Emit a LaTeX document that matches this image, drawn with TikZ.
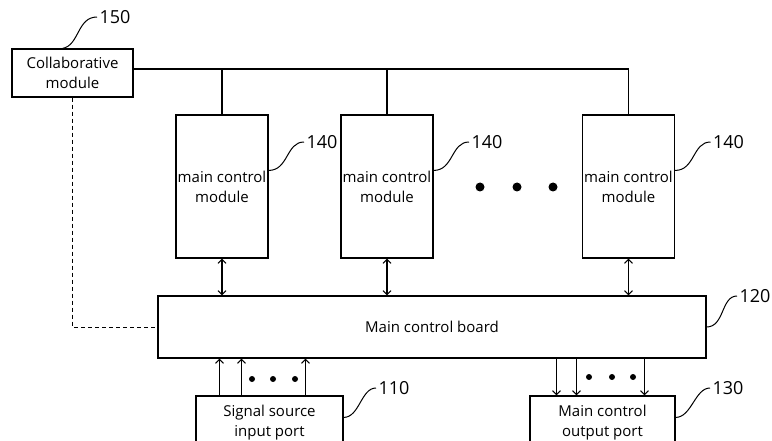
\documentclass[tikz,border=0pt]{standalone}
\usepackage{fontspec}
\setmainfont{Open Sans}
\usetikzlibrary{arrows.meta}

\begin{document}
\begin{tikzpicture}[x=1pt, y=-1pt, line width=1.1pt,
        >={Straight Barb[length=4pt, width=8pt]},
        box/.style={draw, align=center, inner sep=1pt, font=\fontsize{15}{20}\selectfont},
        num/.style={inner sep=2pt, font=\fontsize{18}{20}\selectfont},
        lead/.style={line width=1pt}]
        \useasboundingbox (0,0) rectangle (772,441);
        \clip (0,0) rectangle (772,441);

        % collaborative module on top of the bus
        \node[box, minimum width=121pt, minimum height=48pt] (collab) at (72.5,73) {Collaborative\\module};
        \node[num] (n150) at (115,17) {150};
        \draw[lead] ([xshift=51pt]collab.north west) .. controls +(17,-3) and +(-20,0) .. (n150.west);
        \coordinate (bus) at ([yshift=4pt]collab.east);

        % main control modules
        \foreach \x/\n in {222/1, 387/2, 628.5/3} {
            \node[box, minimum width=92pt, minimum height=143pt] (mod\n) at (\x,186.5) {main control\\module};
            \node[num] (n140\n) at (\x+100,142) {140};
            \draw[lead] ([yshift=-56pt]mod\n.north east) .. controls +(20,0) and +(-18,0) .. (n140\n.west);
        }
        \draw (bus) -- (bus -| mod3.north);
        \foreach \n in {1,2,3}
            \draw (mod\n.north) -- (mod\n.north |- bus);

        \foreach \x in {480,517,553}
            \fill (\x,187) circle (4.5pt);

        % main control board
        \node[box, minimum width=548pt, minimum height=62pt] (board) at (432,327) {Main control board};
        \node[num] (n120) at (755,296) {120};
        \draw[lead] (board.east) .. controls +(18,0) and +(-16,0) .. (n120.west);

        \foreach \n in {1,2,3}
            \draw[<->] (mod\n.south) -- (mod\n.south |- board.north);
        \draw[lead, dash pattern=on 4pt off 3pt] (collab.south) |- (board.west);

        % ports under the board
        \node[box, minimum width=147pt, minimum height=54pt] (inport) at (269.5,423) {Signal source\\input port};
        \node[box, minimum width=145pt, minimum height=54pt] (outport) at (602.5,423) {Main control\\output port};
        \node[num] (n110) at (394,388) {110};
        \node[num] (n130) at (728,388) {130};
        \draw[lead] ([yshift=-22pt]inport.north east) .. controls +(16,0) and +(-15,0) .. (n110.west);
        \draw[lead] ([yshift=-22pt]outport.north east) .. controls +(16,0) and +(-15,0) .. (n130.west);

        \foreach \dx [count=\i] in {24,46,110} {
            \coordinate (in\i) at ([xshift=\dx pt]inport.north west);
            \draw[->] (in\i) -- (in\i |- board.south);
        }
        \foreach \dx [count=\i] in {27,47,115} {
            \coordinate (out\i) at ([xshift=\dx pt]outport.north west);
            \draw[<-] (out\i) -- (out\i |- board.south);
        }
        \foreach \x in {252,273,295}
            \fill (\x,379) circle (3pt);
        \foreach \x in {589,612,633}
            \fill (\x,377) circle (3pt);
    \end{tikzpicture}
\end{document}
